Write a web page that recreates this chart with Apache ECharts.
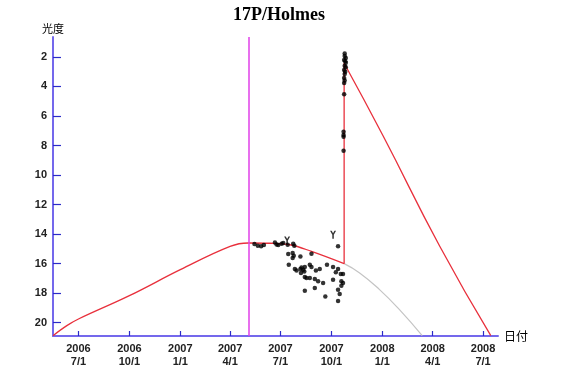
<!DOCTYPE html>
<html><head><meta charset="utf-8">
<script src="https://cdn.jsdelivr.net/npm/echarts@6/dist/echarts.min.js"></script>
<style>html,body{margin:0;padding:0;background:#fff}#c{width:567px;height:379px}</style>
</head><body><div id="c"></div>
<script>
const chartTitle = '17P/Holmes';
const xAxisName = '日付';
const yAxisName = '光度';
const xRange = ['2006-05-16', '2008-07-28'];
const yRange = [0.65, 20.9];
const xTicks = ['2006-07-01','2006-10-01','2007-01-01','2007-04-01','2007-07-01','2007-10-01','2008-01-01','2008-04-01','2008-07-01'];
const yTicks = [2,4,6,8,10,12,14,16,18,20];
const perihelionDate = '2007-05-04';

// predicted light curve before the outburst
const modelDates = ['2006-05-16','2006-06-10','2006-07-01','2006-10-01','2007-01-01','2007-04-01','2007-05-04','2007-06-12','2007-07-18','2007-08-26','2007-10-24'];
const modelMags  = [20.88,20.2,19.75,18.17,16.41,14.83,14.60,14.62,14.72,15.17,16.0];
// outburst jump
const jumpDates = ['2007-10-24','2007-10-24'];
const jumpMags  = [16.0,2.43];
// decline after the outburst
const declineDates = ['2007-10-24','2008-01-03','2008-04-14','2008-07-15'];
const declineMags  = [2.43,7.39,14.84,20.88];
// old prediction continuing without outburst
const grayDates = ['2007-10-24','2007-11-21','2007-12-27','2008-02-01','2008-03-13'];
const grayMags  = [16.0,16.63,17.76,19.12,20.88];

// observations
const obsDates = ['2007-05-15','2007-05-21','2007-05-27','2007-06-01','2007-06-21','2007-06-24','2007-06-27','2007-07-03','2007-07-06','2007-07-14','2007-07-24','2007-07-26',
 '2007-07-15','2007-07-23','2007-07-25','2007-07-23','2007-08-06','2007-08-26','2007-07-16','2007-07-30','2007-08-06','2007-08-08','2007-08-11','2007-08-14','2007-08-13','2007-08-07',
 '2007-08-23','2007-08-26','2007-09-03','2007-09-10','2007-09-23','2007-10-04','2007-10-09','2007-10-13','2007-10-18','2007-10-22','2007-08-17','2007-08-23','2007-09-01','2007-09-07',
 '2007-09-16','2007-10-04','2007-10-19','2007-10-22','2007-10-19','2007-09-01','2007-08-14','2007-10-13','2007-10-16','2007-09-20','2007-10-13','2007-10-13','2007-07-27','2007-08-14',
 '2007-10-25','2007-10-25','2007-10-27','2007-10-24','2007-10-27','2007-10-25','2007-10-24','2007-10-25','2007-10-24','2007-10-24','2007-10-24','2007-10-23','2007-10-23','2007-10-23','2007-10-23',
 '2007-10-26','2007-10-27','2007-10-26','2007-10-25'];
const obsMags = [14.67,14.79,14.83,14.74,14.56,14.70,14.74,14.65,14.60,14.72,14.65,14.79,
 15.35,15.28,15.46,15.62,15.51,15.33,16.07,16.46,16.36,16.26,16.41,16.23,16.53,16.63,
 16.07,16.23,16.46,16.36,16.07,16.23,16.59,16.36,16.70,16.70,16.97,16.97,17.04,17.20,
 17.31,17.09,17.20,17.31,17.49,17.65,17.83,17.76,18.06,18.22,18.53,14.83,16.36,16.9,
 1.76,1.93,2.07,2.2,2.4,2.6,2.88,3.15,3.42,3.76,4.52,7.07,7.28,7.41,8.36,
 2.3,2.7,3.0,3.6];
// upper-limit observations
const limitDates = ['2007-07-13','2007-10-04'];
const limitMags = [14.43,14.04];

function ts(s){ const p = s.split('-').map(Number); return new Date(p[0], p[1]-1, p[2]).getTime(); }
function pairs(ds, vs){ return ds.map((d,i)=>[ts(d), vs[i]]); }

const axisColor = '#7468ec';
const tickColor = '#2b2bc8';
const labelFont = 'Liberation Sans Narrow, Liberation Sans, DejaVu Sans, sans-serif';
const red = '#e8303c';

const chart = echarts.init(document.getElementById('c'), null, {renderer:'canvas'});
chart.setOption({
  animation:false,
  backgroundColor:'#fff',
  title:{text:chartTitle, left:228, top:1, textStyle:{fontFamily:'Liberation Serif, serif', fontWeight:'bold', fontSize:18, color:'#000'}},
  grid:{left:53, right:69, top:37, bottom:43},
  xAxis:{
    type:'value', min:ts(xRange[0]), max:ts(xRange[1]),
    name:xAxisName, nameLocation:'end', nameGap:6,
    nameTextStyle:{fontFamily:'Noto Sans CJK JP', fontSize:12, color:'#000', align:'left', verticalAlign:'middle'},
    axisLine:{show:true, onZero:false, lineStyle:{color:axisColor, width:2}},
    axisTick:{show:true, inside:true, length:5, customValues:xTicks.map(ts), lineStyle:{color:tickColor, width:1.2}},
    axisLabel:{show:true, customValues:xTicks.map(ts), margin:6, fontFamily:labelFont, fontSize:11, fontWeight:'bold', color:'#222', lineHeight:13,
      formatter:function(v){ const d=new Date(v); return d.getFullYear()+'\n'+(d.getMonth()+1)+'/'+d.getDate(); }},
    splitLine:{show:false}, minorTick:{show:false}
  },
  yAxis:{
    type:'value', inverse:true, min:yRange[0], max:yRange[1],
    name:yAxisName, nameLocation:'start', nameGap:3,
    nameTextStyle:{fontFamily:'Noto Sans CJK JP', fontSize:11, color:'#000', align:'center', verticalAlign:'bottom'},
    axisLine:{show:true, onZero:false, lineStyle:{color:axisColor, width:2}},
    axisTick:{show:true, inside:true, length:8, customValues:yTicks, lineStyle:{color:tickColor, width:1.2}},
    axisLabel:{show:true, customValues:yTicks, margin:6, fontFamily:labelFont, fontSize:11, fontWeight:'bold', color:'#222'},
    splitLine:{show:false}
  },
  series:[
    {type:'line', data:pairs(grayDates, grayMags), smooth:true, symbol:'none', lineStyle:{color:'#c4c4c4', width:1.2}, z:1},
    {type:'line', data:pairs(modelDates, modelMags), smooth:0.4, symbol:'none', lineStyle:{color:red, width:1.3}, z:2,
      markLine:{silent:true, symbol:'none', label:{show:false}, lineStyle:{color:'#e040e8', type:'solid', width:1.5},
        data:[{xAxis:ts(perihelionDate)}]}},
    {type:'line', data:pairs(jumpDates, jumpMags), smooth:false, symbol:'none', lineStyle:{color:red, width:1.3}, z:2},
    {type:'line', data:pairs(declineDates, declineMags), smooth:0.5, symbol:'none', lineStyle:{color:red, width:1.3}, z:2},
    {type:'scatter', data:pairs(obsDates, obsMags), symbol:'circle', symbolSize:4.5, itemStyle:{color:'#000'}, z:3},
    {type:'scatter', data:pairs(limitDates, limitMags), symbol:'path://M0,0 L2.2,0 L4,3.2 L5.8,0 L8,0 L5,5 L5,10 L3,10 L3,5 Z', symbolSize:[6,8], itemStyle:{color:'#000'}, z:3}
  ]
});
</script></body></html>
